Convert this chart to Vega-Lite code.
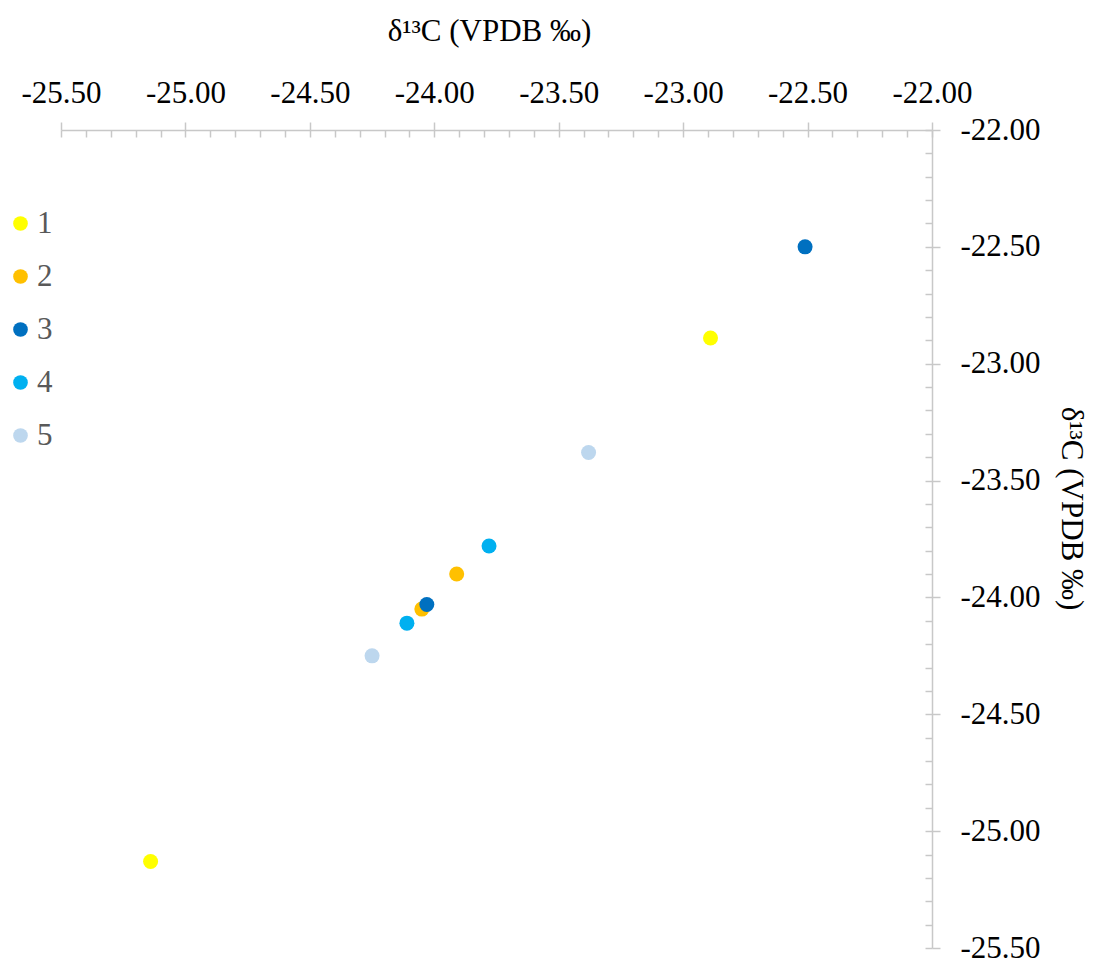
{
  "$schema": "https://vega.github.io/schema/vega-lite/v6.json",
  "width": 871,
  "height": 818,
  "autosize": {"type": "none"},
  "padding": {"left": 61, "top": 130, "right": 164, "bottom": 12},
  "background": "white",
  "config": {
    "font": "Liberation Serif",
    "locale": {"number": {"decimal": ".", "thousands": ",", "grouping": [3], "currency": ["", ""], "minus": "-"}},
    "view": {"stroke": null},
    "axis": {"grid": false, "domainColor": "#c8c8c8", "tickColor": "#c8c8c8", "domainWidth": 1.5, "tickWidth": 1.5}
  },
  "data": {
    "values": [
      {"group": "1", "d13C_a": -25.14, "d13C_b": -25.13},
      {"group": "1", "d13C_a": -22.89, "d13C_b": -22.89},
      {"group": "2", "d13C_a": -23.91, "d13C_b": -23.90},
      {"group": "2", "d13C_a": -24.05, "d13C_b": -24.05},
      {"group": "3", "d13C_a": -22.51, "d13C_b": -22.50},
      {"group": "3", "d13C_a": -24.03, "d13C_b": -24.03},
      {"group": "4", "d13C_a": -23.78, "d13C_b": -23.78},
      {"group": "4", "d13C_a": -24.11, "d13C_b": -24.11},
      {"group": "5", "d13C_a": -24.25, "d13C_b": -24.25},
      {"group": "5", "d13C_a": -23.38, "d13C_b": -23.38}
    ]
  },
  "layer": [
    {
      "mark": {"type": "point", "opacity": 0},
      "encoding": {
        "x": {
          "field": "d13C_a", "type": "quantitative",
          "scale": {"domain": [-25.5, -22], "nice": false, "zero": false},
          "axis": {
            "orient": "top", "title": null, "labels": false, "domain": false,
            "tickSize": -7,
            "values": [-25.5, -25.4, -25.3, -25.2, -25.1, -25.0, -24.9, -24.8, -24.7, -24.6, -24.5, -24.4, -24.3, -24.2, -24.1, -24.0, -23.9, -23.8, -23.7, -23.6, -23.5, -23.4, -23.3, -23.2, -23.1, -23.0, -22.9, -22.8, -22.7, -22.6, -22.5, -22.4, -22.3, -22.2, -22.1, -22.0]
          }
        },
        "y": {
          "field": "d13C_b", "type": "quantitative",
          "scale": {"domain": [-25.5, -22], "nice": false, "zero": false},
          "axis": {
            "orient": "right", "title": null, "labels": false, "domain": false,
            "tickSize": -7,
            "values": [-25.5, -25.4, -25.3, -25.2, -25.1, -25.0, -24.9, -24.8, -24.7, -24.6, -24.5, -24.4, -24.3, -24.2, -24.1, -24.0, -23.9, -23.8, -23.7, -23.6, -23.5, -23.4, -23.3, -23.2, -23.1, -23.0, -22.9, -22.8, -22.7, -22.6, -22.5, -22.4, -22.3, -22.2, -22.1, -22.0]
          }
        }
      }
    },
    {
      "mark": {"type": "circle", "size": 225, "opacity": 1},
      "encoding": {
        "x": {
          "field": "d13C_a", "type": "quantitative",
          "scale": {"domain": [-25.5, -22], "nice": false, "zero": false},
          "axis": {
            "orient": "top",
            "title": "δ¹³C (VPDB ‰)",
            "titleFont": "Liberation Serif", "titleFontSize": 31, "titleFontWeight": "normal", "titleColor": "#000000",
            "titleAnchor": "start", "titleAlign": "center", "titleX": 428, "titleY": -90, "titleBaseline": "alphabetic",
            "values": [-25.5, -25, -24.5, -24, -23.5, -23, -22.5, -22],
            "format": ".2f",
            "tickSize": 8,
            "labelFont": "Liberation Serif", "labelFontSize": 31, "labelColor": "#000000",
            "labelPadding": 13, "labelOverlap": false, "labelFlush": false
          }
        },
        "y": {
          "field": "d13C_b", "type": "quantitative",
          "scale": {"domain": [-25.5, -22], "nice": false, "zero": false},
          "axis": {
            "orient": "right",
            "title": "δ¹³C (VPDB ‰)",
            "titleFont": "Liberation Serif", "titleFontSize": 31, "titleFontWeight": "normal", "titleColor": "#000000",
            "titleAngle": 90, "titleAnchor": "start", "titleAlign": "center", "titleX": 129, "titleY": 378, "titleBaseline": "alphabetic",
            "values": [-25.5, -25, -24.5, -24, -23.5, -23, -22.5, -22],
            "format": ".2f",
            "tickSize": 8,
            "labelFont": "Liberation Serif", "labelFontSize": 31, "labelColor": "#000000",
            "labelPadding": 20, "labelOverlap": false, "labelFlush": false
          }
        },
        "color": {
          "field": "group", "type": "nominal",
          "scale": {"domain": ["1", "2", "3", "4", "5"], "range": ["#FFFF00", "#FFC000", "#0070C0", "#00B0F0", "#BDD7EE"]},
          "legend": {
            "orient": "none", "legendX": -56, "legendY": 78,
            "title": null, "padding": 0,
            "symbolType": "circle", "symbolSize": 215, "symbolStrokeWidth": 0, "symbolOpacity": 1,
            "labelFont": "Liberation Serif", "labelFontSize": 31, "labelColor": "#595959",
            "labelOffset": 1, "rowPadding": 21
          }
        }
      }
    }
  ],
  "resolve": {"axis": {"x": "independent", "y": "independent"}}
}
